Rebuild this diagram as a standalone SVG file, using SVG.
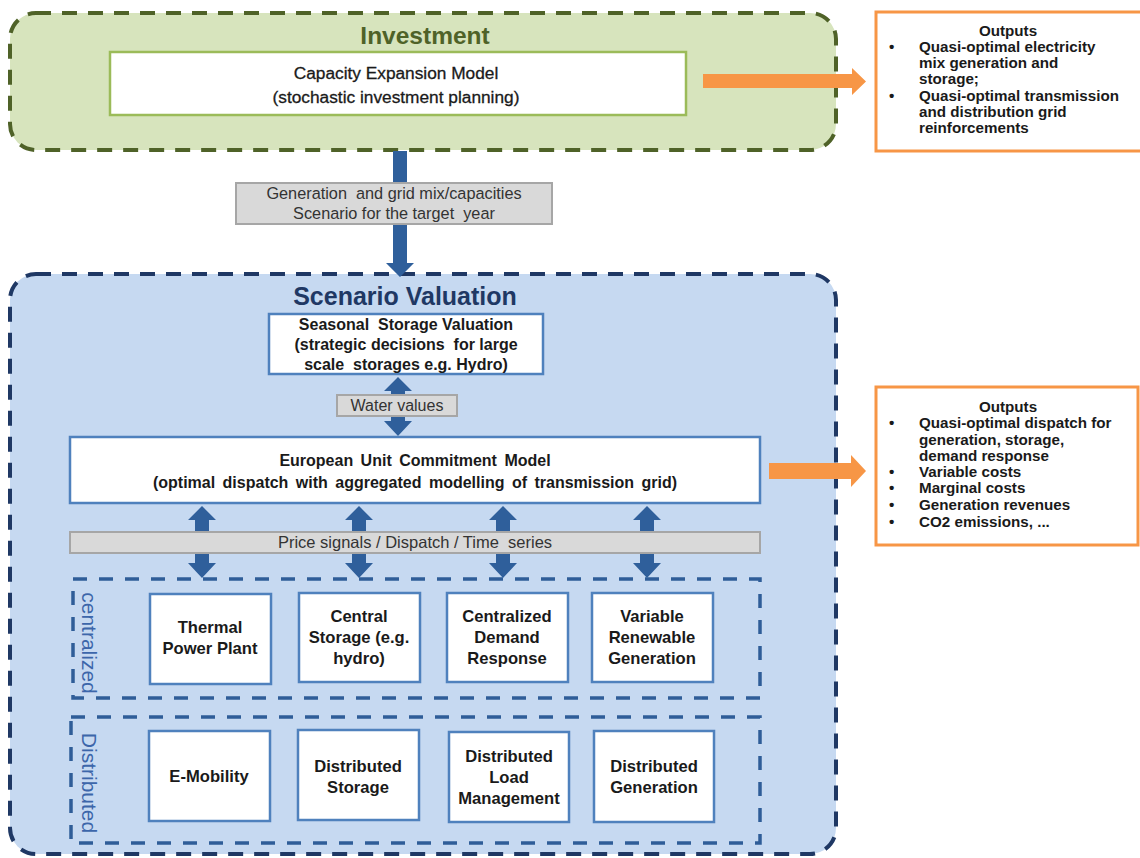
<svg xmlns="http://www.w3.org/2000/svg" width="1140" height="858" viewBox="0 0 1140 858">
  <style>
    .t { font-family: "Liberation Sans", Arial, sans-serif; fill: #1a1a1a; white-space: pre; }
    .b { font-weight: bold; }
    .node { fill: #ffffff; stroke: #4f81bd; stroke-width: 2.5; }
    .lbl { fill: #d9d9d9; stroke: #a6a6a6; stroke-width: 2; }
    .grp { fill: none; stroke: #2f5d98; stroke-width: 3.5; stroke-dasharray: 14 12; }
    .arrow { fill: #2f5f9b; }
    .orange { fill: #f79646; }
    .out { fill: #ffffff; stroke: #f79646; stroke-width: 3; }
    .otxt { font-family: "Liberation Sans", Arial, sans-serif; font-weight: bold; font-size: 15.2px; fill: #1a1a1a; }
    .side { font-family: "Liberation Sans", Arial, sans-serif; font-size: 21px; fill: #3c66aa; }
  </style>

  <!-- Investment layer -->
  <g id="investment">
    <rect x="10" y="13" width="826" height="137" rx="26" fill="#d7e4bd" stroke="#4f6228" stroke-width="4" stroke-dasharray="15 11"/>
    <text class="t b" x="425" y="44" font-size="24.5" text-anchor="middle" style="fill:#4f6228">Investment</text>
  </g>

  <g id="capacity-expansion">
    <rect x="110" y="52" width="576" height="63" fill="#ffffff" stroke="#9bbb59" stroke-width="2.5"/>
    <text class="t" x="396" y="79" font-size="17.3" text-anchor="middle" stroke="#1a1a1a" stroke-width="0.3">Capacity Expansion Model</text>
    <text class="t" x="396" y="103" font-size="17.3" text-anchor="middle" stroke="#1a1a1a" stroke-width="0.3">(stochastic investment planning)</text>
  </g>

  <g id="outputs-investment">
    <rect x="876" y="12" width="266" height="139" class="out"/>
    <text class="otxt" x="1008" y="36" text-anchor="middle" font-size="16">Outputs</text>
    <text class="otxt" x="889" y="52">•</text>
    <text class="otxt" x="919" y="52">Quasi-optimal electricity</text>
    <text class="otxt" x="919" y="68">mix generation and</text>
    <text class="otxt" x="919" y="84">storage;</text>
    <text class="otxt" x="889" y="101">•</text>
    <text class="otxt" x="919" y="101">Quasi-optimal transmission</text>
    <text class="otxt" x="919" y="117">and distribution grid</text>
    <text class="otxt" x="919" y="133">reinforcements</text>
  </g>

  <!-- Scenario valuation layer -->
  <g id="scenario-valuation">
    <rect x="10" y="274" width="826" height="580" rx="26" fill="#c6d9f1" stroke="#1f3864" stroke-width="4" stroke-dasharray="15 11"/>
    <text class="t b" x="405" y="305" font-size="25" text-anchor="middle" style="fill:#1f3864">Scenario Valuation</text>
  </g>

  <g id="centralized-group">
    <rect x="73" y="579" width="687" height="119" class="grp"/>
    <text class="side" transform="translate(82,643) rotate(90)" text-anchor="middle">centralized</text>
  </g>

  <g id="distributed-group">
    <rect x="71" y="717" width="689" height="126" class="grp"/>
    <text class="side" transform="translate(82,783) rotate(90)" text-anchor="middle">Distributed</text>
  </g>

  <!-- Connectors -->
  <g id="connectors">
    <!-- investment to scenario valuation -->
    <polygon class="arrow" points="393,151 407,151 407,263 414,263 400,277 386,263 393,263"/>
    <!-- capacity expansion outputs -->
    <polygon class="orange" points="703,74 852,74 852,68 866,81.5 852,95 852,88 703,88"/>
    <!-- unit commitment outputs -->
    <polygon class="orange" points="769,463 851,463 851,455 866,471 851,487 851,479 769,479"/>
    <!-- seasonal storage / unit commitment exchange -->
    <polygon class="arrow" points="398,377 412,391 405,391 405,421 412,421 398,436 384,421 391,421 391,391 384,391"/>
    <!-- unit commitment / centralized assets exchange -->
    <polygon class="arrow" points="202,506 216,520 209,520 209,563 216,563 202,578 188,563 195,563 195,520 188,520"/>
    <polygon class="arrow" points="359,506 373,520 366,520 366,563 373,563 359,578 345,563 352,563 352,520 345,520"/>
    <polygon class="arrow" points="503,506 517,520 510,520 510,563 517,563 503,578 489,563 496,563 496,520 489,520"/>
    <polygon class="arrow" points="647,506 661,520 654,520 654,563 661,563 647,578 633,563 640,563 640,520 633,520"/>
  </g>

  <g id="label-scenario-target">
    <rect x="236" y="183" width="316" height="41" class="lbl"/>
    <text class="t" x="394" y="199" font-size="16.3" text-anchor="middle" style="fill:#333333">Generation  and grid mix/capacities</text>
    <text class="t" x="394" y="219" font-size="16.3" text-anchor="middle" style="fill:#333333">Scenario for the target  year</text>
  </g>

  <g id="seasonal-storage">
    <rect x="269" y="314" width="274" height="60" class="node"/>
    <text class="t b" x="406" y="330" font-size="16" text-anchor="middle">Seasonal  Storage Valuation</text>
    <text class="t b" x="406" y="350" font-size="16" text-anchor="middle">(strategic decisions  for large</text>
    <text class="t b" x="406" y="370" font-size="16" text-anchor="middle">scale  storages e.g. Hydro)</text>
  </g>

  <g id="label-water-values">
    <rect x="337" y="395" width="120" height="21" class="lbl"/>
    <text class="t" x="397" y="411" font-size="16" text-anchor="middle" style="fill:#333333">Water values</text>
  </g>

  <g id="unit-commitment">
    <rect x="70" y="437" width="690" height="66" class="node"/>
    <text class="t b" x="415" y="466" font-size="16" text-anchor="middle" word-spacing="3">European Unit Commitment Model</text>
    <text class="t b" x="415" y="488" font-size="16" text-anchor="middle" word-spacing="3">(optimal dispatch with aggregated modelling of transmission grid)</text>
  </g>

  <g id="outputs-dispatch">
    <rect x="876" y="387" width="262" height="158" class="out"/>
    <text class="otxt" x="1008" y="412" text-anchor="middle" font-size="16">Outputs</text>
    <text class="otxt" x="889" y="428">•</text>
    <text class="otxt" x="919" y="428">Quasi-optimal dispatch for</text>
    <text class="otxt" x="919" y="445">generation, storage,</text>
    <text class="otxt" x="919" y="461">demand response</text>
    <text class="otxt" x="889" y="477">•</text>
    <text class="otxt" x="919" y="477">Variable costs</text>
    <text class="otxt" x="889" y="493">•</text>
    <text class="otxt" x="919" y="493">Marginal costs</text>
    <text class="otxt" x="889" y="510">•</text>
    <text class="otxt" x="919" y="510">Generation revenues</text>
    <text class="otxt" x="889" y="527">•</text>
    <text class="otxt" x="919" y="527">CO2 emissions, ...</text>
  </g>

  <g id="label-price-signals">
    <rect x="70" y="532" width="690" height="21" class="lbl"/>
    <text class="t" x="415" y="548" font-size="16.5" text-anchor="middle" style="fill:#333333">Price signals / Dispatch / Time  series</text>
  </g>

  <!-- Centralized assets -->
  <g id="thermal-power-plant">
    <rect x="150" y="594" width="121" height="90" class="node"/>
    <text class="t b" x="210" y="633" font-size="16.6" text-anchor="middle">Thermal</text>
    <text class="t b" x="210" y="654" font-size="16.6" text-anchor="middle">Power Plant</text>
  </g>
  <g id="central-storage">
    <rect x="299" y="593" width="121" height="89" class="node"/>
    <text class="t b" x="359" y="622" font-size="16.6" text-anchor="middle">Central</text>
    <text class="t b" x="359" y="643" font-size="16.6" text-anchor="middle">Storage (e.g.</text>
    <text class="t b" x="359" y="664" font-size="16.6" text-anchor="middle">hydro)</text>
  </g>
  <g id="centralized-demand-response">
    <rect x="447" y="593" width="121" height="89" class="node"/>
    <text class="t b" x="507" y="622" font-size="16.6" text-anchor="middle">Centralized</text>
    <text class="t b" x="507" y="643" font-size="16.6" text-anchor="middle">Demand</text>
    <text class="t b" x="507" y="664" font-size="16.6" text-anchor="middle">Response</text>
  </g>
  <g id="variable-renewable-generation">
    <rect x="592" y="593" width="121" height="89" class="node"/>
    <text class="t b" x="652" y="622" font-size="16.6" text-anchor="middle">Variable</text>
    <text class="t b" x="652" y="643" font-size="16.6" text-anchor="middle">Renewable</text>
    <text class="t b" x="652" y="664" font-size="16.6" text-anchor="middle">Generation</text>
  </g>

  <!-- Distributed assets -->
  <g id="e-mobility">
    <rect x="149" y="731" width="121" height="90" class="node"/>
    <text class="t b" x="209" y="782" font-size="16.6" text-anchor="middle">E-Mobility</text>
  </g>
  <g id="distributed-storage">
    <rect x="298" y="730" width="121" height="90" class="node"/>
    <text class="t b" x="358" y="772" font-size="16.6" text-anchor="middle">Distributed</text>
    <text class="t b" x="358" y="793" font-size="16.6" text-anchor="middle">Storage</text>
  </g>
  <g id="distributed-load-management">
    <rect x="449" y="732" width="120" height="90" class="node"/>
    <text class="t b" x="509" y="762" font-size="16.6" text-anchor="middle">Distributed</text>
    <text class="t b" x="509" y="783" font-size="16.6" text-anchor="middle">Load</text>
    <text class="t b" x="509" y="804" font-size="16.6" text-anchor="middle">Management</text>
  </g>
  <g id="distributed-generation">
    <rect x="594" y="731" width="120" height="91" class="node"/>
    <text class="t b" x="654" y="772" font-size="16.6" text-anchor="middle">Distributed</text>
    <text class="t b" x="654" y="793" font-size="16.6" text-anchor="middle">Generation</text>
  </g>
</svg>
